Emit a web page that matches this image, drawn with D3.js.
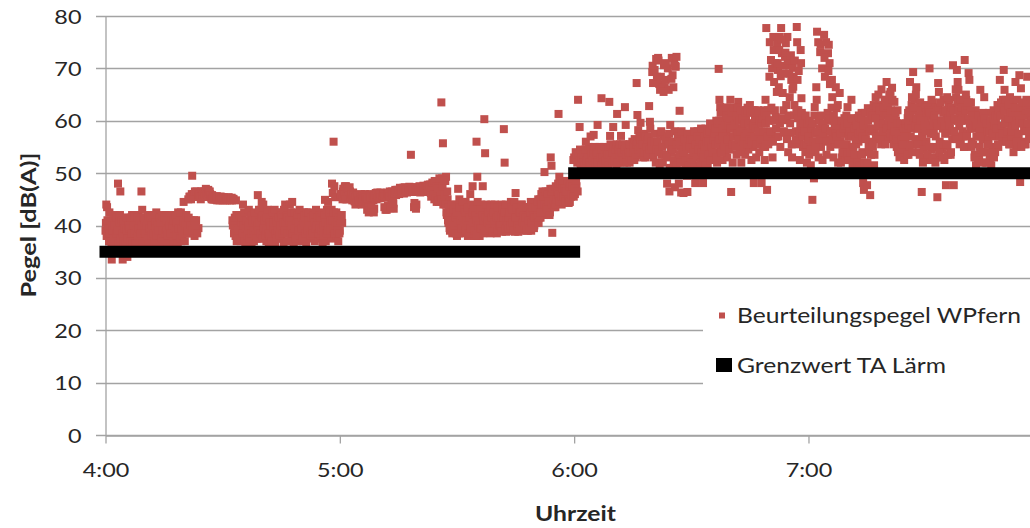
<!DOCTYPE html>
<html><head><meta charset="utf-8">
<script src="https://cdn.jsdelivr.net/npm/d3@7"></script>
<style>
body{margin:0;background:#fff}
svg{display:block}
text{font-family:Lato,"Open Sans",sans-serif;fill:#262626}
</style>
</head><body>
<svg id="chart" width="1030" height="528"></svg>
<script>
// ---------------- data ----------------
const seriesNames = ["Beurteilungspegel WPfern", "Grenzwert TA Lärm"];
const xTitle = "Uhrzeit";
const yTitle = "Pegel [dB(A)]";
const xDomainTimes = ["04:00", "08:00"];
const xTickLabels = ["4:00", "5:00", "6:00", "7:00"];
const yTicks = [0, 10, 20, 30, 40, 50, 60, 70, 80];
const sampleIntervalSeconds = 12;
// Beurteilungspegel WPfern [dB(A)], readings at 04:00:00, 04:00:12, ...
const startTimeA = "04:00:00";
const pegelA = [
// 4:00
39,44,43.5,40,38.5, 42.5,39.5,37,33.5,40, 41,38,36.5,40.5,39, 37.5,48,41,38,46.5, 40,36,33.5,39.5,41.5,
// 4:05
38,40.5,37,34,39, 41,38.5,36,40,42, 37.5,39.5,41,38,40.5, 36.5,40,42,39,37, 41,46.5,43,38,40,
// 4:10
39.5,37,41.5,40,36.5, 38.5,41,39,42,37.5, 40,36,39.5,41,38, 42.5,37,40.5,38.5,41, 39,41.5,36.5,40,38,
// 4:15
37.5,40,42,39.5,36, 41,38,40.5,37,39.5, 38.5,41.5,39,36.5,40, 40.5,37.5,41,42.5,38, 39,41,37,40,42,
// 4:20
44.5,38.5,41,39.5,40.5, 40,45,38.5,45.5,41, 45.5,49.5,40,46,38, 46,41,46,45.5,39.5, 45.5,46,45,45.5,46,
// 4:25
46,45.5,46.5,46,45.5, 46.5,46,46.5,45.5,46, 45.5,45,45.5,45,45, 45,45.5,45,44.8,45, 45,44.8,45,45.5,45,
// 4:30
44.8,45,45.2,44.8,45, 45,44.8,45,45.3,45, 45,45.2,44.8,40,45, 39,41,44.8,37,40, 40.5,38,41.5,37,39.5,
// 4:35
42,44,38.5,40,36.5, 39,41,37.5,42.5,40, 38,40.5,36.5,39.5,41.5, 37,42,39,40.5,38.5, 45.8,41,37.5,40,43,
// 4:40
44.5,39,44,38,41, 40,37,42,39.5,36.5, 41.5,38.5,40,37.5,42, 39,41,36.5,40.5,38, 42.5,37.5,40,39,41,
// 4:45
38,40.5,41.5,36.5,39.5, 44,39,37,41,40, 38.5,44,42,37.5,44.5, 40,36.5,41,39,42, 37,40.5,38.5,41.5,39,
// 4:50
41,38,40,37,42.5, 39.5,41.5,36.5,40,38, 37.5,42,39,41,40.5, 40,38.5,41,37,39.5, 42,39,37.5,40.5,41.5,
// 4:55
38,41,40,36.5,42, 39.5,44.9,37,41,40, 44.5,38.5,41.5,40,37.5, 48,46.2,56,47.5,45.4, 40,38,42,37,41.5,
// 5:00
39,45.5,46,40.5,46.5, 47,45.5,46.5,47.5,45, 46,47,45.5,46.5,45.5, 45.5,44.8,46.3,45.5,44.6, 44,45.5,44.5,45.8,45.5,
// 5:05
45,44.3,46,44,45.2, 45.5,44.7,46,45.2,45.8, 43,45.5,42.5,44.8,46, 45.8,42.8,45.3,44.8,43.2, 45.5,46.2,45,46.3,45.2,
// 5:10
45.8,45.2,46.3,45.5,46, 46.2,45.5,43.5,46.2,45.3, 43,46.3,45.6,43.5,46.5, 46,44,46.5,45.6,43.2, 46.2,46.8,45.8,46.5,46.8,
// 5:15
46.5,46,47.2,46.3,46.6, 46.5,47.2,46.1,47.3,46.5, 47.2,46.3,47,46.4,47.4, 46.8,53.5,47.3,46.4,47, 43.5,46.8,47.3,44,46.5,
// 5:20
47.2,46.6,47.5,46.3,47, 47.3,46.4,47.6,46.7,47.2, 47.5,46.6,46.4,47.8,47, 46.5,47.8,45.5,47.2,48, 47,45,48,46.5,44.5,
// 5:25
48.5,46,44.5,47.5,45.5, 63.5,49,55.7,46,44.5, 48.5,49.3,42,45,40.5, 41,39,43.5,40,38.5, 42,40.5,39,44,41.5,
// 5:30
38,42.5,40,45,39.5, 41,39,43,38.5,42, 40,44.5,39.5,41.5,38, 43,40.5,46,39,42, 47.5,41,38,43.5,40,
// 5:35
56,49.3,39.5,42,38, 41.5,44,40,47.5,39, 60.3,53.8,42.5,40.5,43.5, 39.5,42,41,38.5,44, 40.5,43,39,41.5,40,
// 5:40
42,38.5,40.5,43.5,39.5, 41,39.5,44,40,42.5, 58.4,52,40.5,38.8,41.5, 43,40,39,42,44.5, 39.5,41.5,42.5,40,38.8,
// 5:45
46.2,40.5,43,39.5,41, 42,39,40.5,44,41.5, 40,43,39.5,41,42.5, 41.5,39,42,40.5,43.5, 39,42.5,41,44,40,
// 5:50
42,40.5,43.5,41,45, 43,44.5,41.5,46,42.5, 44,42,50.2,45.5,43, 45,43.5,46.5,44,42.5, 53,51.4,38.6,45.5,44,
// 5:55
46,43.5,47,44.5,45.5, 61.3,49.3,45,47.5,44, 46.5,44.5,48,45.5,47, 45,47.5,46,44.3,48.5, 47,45.5,48,46.5,52.5,
// 6:00
53,46,54,47.5,52, 64,53,58.8,52,54, 51.5,53.5,52.5,54,52, 56,53,51.5,54,52.5, 53.5,57,52,54,51.5,
// 6:05
57.3,52.5,54.5,53,51, 59.2,53.5,52,54.5,52.5, 64.3,52,54,53,51.5, 53.5,51.5,54.5,52.5,54, 63.6,57.1,53,52,54.5,
// 6:10
58.8,54,52.5,53.5,51.5, 61.3,53,54.5,52,53.5, 57.1,52.5,54,55,52, 62.6,59.2,53.5,54.5,52.5, 54,52,55,53,54.5,
// 6:15
53.5,55,52.5,54.5,56, 67.2,61.1,58.2,54,55.5, 59.6,53.5,55,56.5,54, 55.5,53,56,54.5,57, 56.3,62.8,59.8,55,53.5,
// 6:20
69.3,67.2,54.5,69.7,56, 71.8,68.4,55,71.5,67, 65.9,68.4,53.5,66.4,57, 70.6,66.4,67.8,55.5,48, 70,65.9,46.5,59.2,54,
// 6:25
72,68.7,66.4,71,47.3, 70.3,72.2,52,56.5,48, 61.9,55,46.3,53.5,57.5, 46.2,53,55.5,51,57, 46.4,54.5,52,56,50.5,
// 6:30
55,52.5,57.5,53.5,50, 48.1,56,53,58,51.5, 54,57.5,51,55.5,52.5, 48.1,56.5,53.5,58.5,52, 55,51.5,57,54,59.5,
// 6:35
52.5,56,53,58,55.5, 57,54,60,52,56.5, 69.9,64,62.6,55,58, 52.5,60,56.5,62.5,54, 58,53,61,55.5,59.5,
// 6:40
64,46.4,57,52,60.5, 55.5,62,58.5,53.5,60, 63.6,57,54,61,52, 62,58.5,55,60.5,53.5, 60.1,56,62.5,54.5,58,
// 6:45
63,57.5,52.5,59.5,55, 48.1,62,56,53,60.5, 59.8,56.9,54,61,57.5, 48.1,57.9,55,62,52.5, 64,77.7,46.8,62,56,
// 6:50
68.4,60.1,71.6,57.3,53, 76,67.4,62,60.7,56.9, 74.8,69.7,66.4,76,55, 77.7,72.9,65.3,62,57.7, 72.2,74.8,60.1,76,54,
// 6:55
70.6,64.5,57.7,67.8,53, 70.1,68.4,63,55.5,58, 77.9,67.8,62,56,52.5, 73.5,64.3,61,55,58.5, 60,54,57,52,59,
// 7:00
58.5,53.5,56,51.5,55, 44.9,57.7,49,62.6,54, 66.4,77,56,53,58.5, 73.1,55,59,52.5,57, 76.4,68.4,56.5,53.5,60,
// 7:05
72.9,74.5,71,55,58, 67.8,57.5,53,60,55.5, 66.4,62.4,56,52,59, 65.3,56,59.5,53,57.5, 54.5,60.5,52.5,58,55.5,
// 7:10
62.6,57,53.5,59,55, 64,54,60,52.5,57.5, 58.5,55.5,53,60.5,56, 52,59,56.5,61.5,54, 48.1,46.8,57.5,51.5,60,
// 7:15
47.7,62.4,55,58.5,45.8, 53.5,60.5,56,62,51.5, 58,64.5,56.5,61,59.5, 63,57,60.5,55.5,62.5, 56,61.5,58.5,64,57,
// 7:20
67.4,59.5,62,56.5,60.5, 65.5,58,66.3,61,55.5, 63.6,57.5,60,55,62, 56,58.5,54,59,55.5, 57.5,53.5,58.5,55,56.5,
// 7:25
54.5,58,60.5,53.5,62, 67.4,57,63,55.5,69.3, 60,64,56.5,66.4,58.5, 62.5,54,59.5,63.5,56, 46.4,58,53,61.5,55.5,
// 7:30
60.5,56,63,52.5,58.5, 70,57.5,61,54.5,63.5, 59,55,62.5,57,53, 45.4,67.2,65.5,56,60, 62,54.5,58.5,64,52.5,
// 7:35
57.5,47.7,61,55,63, 64,58.5,53.5,60,56.5, 70.6,47.7,62,57,64.5, 69.7,67.4,65.9,59,61.5, 56.5,63,58,61,55,
// 7:40
71.6,60,64,57.5,62.5, 69.1,67.8,58.5,63.5,56, 61,55.5,59.5,53.5,62, 57,60.5,52.5,58.5,55, 65.9,54,61,56.5,59,
// 7:45
64.5,58,52,60,55.5, 56.5,61.5,53.5,58,51.5, 59.5,55,62,57,54, 60,57.5,63,55,61.5, 67.8,58.5,62.5,56,64,
// 7:50
69.7,65.9,60.5,57,63, 58,62,55.5,64.5,59.5, 61,56.5,63.5,58,60, 67.4,55,62,59.5,57, 68.7,48.3,66.2,60.5,56,
// 7:55
63,58.5,61.5,55.5,64, 68.4,59,62.5,57.5,60.5
];
// Beurteilungspegel WPfern [dB(A)], intermediate readings at 04:00:06, 04:00:18, ...
const startTimeB = "04:00:06";
const pegelB = [
// 4:00
40.5,38,41,39.5,37, 38.5,41,36.5,40,39, 37.5,40,42,38.5,41.5, 39,36.5,40.5,42,37.5, 41,38.5,37,40.5,39.5,
// 4:05
36.5,41.5,39,37.5,40, 39.5,37,41.5,38.5,36.5, 40,42,38.5,36.5,39, 41.5,38,39.5,41,38.5, 37,40,36.5,41.5,39,
// 4:10
41,38.5,40,37.5,42, 36.5,39.5,41.5,38,40, 42,38.5,37,40.5,39.5, 38,40,39,36.5,41.5, 40.5,37.5,42,39,37,
// 4:15
41.5,38.5,39,41,38, 36.5,40,42,38.5,41, 40,37,41,39.5,42, 38,40.5,36.5,39.5,41, 37.5,42.5,39.5,38,40.5,
// 4:20
41,37,40,42,38.5, 39,41.5,45.5,40,45, 46,39,45.5,41,46.5, 40,46.5,38.5,46,45.5, 46,45.5,46.5,45.5,46,
// 4:25
46.5,46,45.5,47,46, 46,46.8,46.2,46.5,45.8, 45.2,45.8,45,45.5,45.3, 45.3,45,45.6,45.2,44.9, 45.2,45.5,44.9,45.1,45.4,
// 4:30
45.1,45.4,44.9,45.2,45.3, 45.2,44.9,45.4,45.1,44.8, 44.9,45.3,41,45.1,38.5, 41.5,38,42,39.5,37.5, 39,42,37.5,40.5,41.5,
// 4:35
38.5,40,42.5,37,39.5, 41,38,40,43,37.5, 40.5,42,38.5,41,39, 42.5,38,41,37.5,40, 39,43,40.5,38.5,41.5,
// 4:40
37.5,42,39.5,41,38, 41.5,39,43,38.5,40.5, 38,40,37,42.5,39.5, 40.5,43,38.5,41,37.5, 39,41.5,38,40,42.5,
// 4:45
42,38.5,40.5,43,39, 40.5,42,38.5,41.5,37, 41,39,42.5,40,38.5, 38.5,42.5,39.5,37.5,41, 42,39,40.5,43,38,
// 4:50
39.5,41.5,37.5,40.5,42, 40,38.5,42.5,39,41, 42.5,40,38,41.5,39, 38.5,42,40.5,39.5,43, 40,41.5,38.5,42,39.5,
// 4:55
41.5,39,42.5,40,38, 42,40.5,38.5,43,39, 40,42.5,39,41,43, 41,39.5,42.5,38.5,40, 42.5,40.5,39,41.5,38.5,
// 5:00
41,46,42,45,47, 46,47.5,45,46.5,47, 45.5,46.5,47.3,45.2,46, 46,45.2,45.8,44.8,45.5, 45.3,44.5,45.8,45,44.8,
// 5:05
44.6,45.4,45,45.8,44.5, 45.2,45.6,44.8,45.4,45, 45.2,43.5,45.6,42.8,45.3, 43.5,45.4,45.8,42.5,45.6, 45.2,45.6,45.9,45.3,45.7,
// 5:10
45.6,46.1,45.3,45.9,45.5, 45.7,46.2,45.6,43,45.9, 45.9,43.8,46.2,45.6,43.3, 43.5,46.3,45.9,44.2,46.1, 46.1,46.6,46.4,46.8,46.2,
// 5:15
46.8,46.4,46.9,46.2,46.7, 46.6,47.1,46.3,46.9,46.7, 46.9,46.4,47.2,46.7,46.5, 46.6,47.2,46.9,46.4,47.1, 44.3,46.9,43.2,46.7,47.1,
// 5:20
46.9,47.3,46.6,47.1,46.8, 47.3,46.8,47.4,46.6,47.2, 46.9,47.6,47.1,46.6,47.4, 47.8,46.2,47.3,48.2,45.8, 46,48.5,45.2,47.5,44.8,
// 5:25
47,44.8,49,45.5,46.5, 45,47.5,44,48.5,46, 44,42.5,46.5,41,43.5, 39.5,42.5,40,44,38.8, 43,39,41.5,38.5,42.5,
// 5:30
40.5,47,38.5,43.5,41, 39.5,42,44.5,40,43, 42.5,39,41,43.5,40, 38.5,41.5,39.5,44,42.5, 40.5,43,39,42,38,
// 5:35
41,44.5,40,43,39.5, 43,39.5,42,38.5,41, 39,41.5,44,40.5,42, 42.5,40,43.5,39.5,41.5, 38.8,42.5,40.5,44,39.5,
// 5:40
41.5,43.5,39,42,40, 40,42,38.8,43,41.5, 42.5,39.5,44,41,40, 39.5,41.5,42.5,40,43.5, 43,40.5,39,44.5,41.5,
// 5:45
41.5,43.5,40,38.8,42.5, 39.5,42.5,44,40.5,43, 42,40,41.5,43.5,39, 43.5,41,39.5,42.5,44.5, 40.5,43.5,42,39.5,41.5,
// 5:50
43.5,41.5,44.5,42,40.5, 41.5,45,42.5,44,46.5, 45.5,42.5,44,46.5,43.5, 43,46,44.5,42,47, 46.5,44,47,45,43.5,
// 5:55
44,47.5,45,46.5,48, 46,44.5,48,45.5,47, 48.5,45.5,47,44.5,46.5, 46.5,48.5,45,47.5,44.5, 48,46,47.5,49,45.5,
// 6:00
47,52.5,48.5,53.5,46.5, 53.5,52.5,54.5,51.5,53, 54,52,53.5,51.5,54.5, 52.5,54.5,53,55,52, 54.5,51.5,53.5,52.5,54,
// 6:05
53,55,52,54,53.5, 52,54,55,53,51.5, 54.5,53,52,55,53.5, 52.5,54.5,53.5,51.5,55, 53.5,55.5,52.5,54,52,
// 6:10
55,52.5,54.5,53,55.5, 52,54.5,53.5,55.5,53, 54,53,55.5,52.5,54.5, 55,53.5,52,55.5,54, 53,55.5,54,52.5,56,
// 6:15
55,54,56.5,53,55.5, 53.5,56,54.5,57,55, 56.5,54,55.5,53,57.5, 54,57,55,56.5,53.5, 57,54.5,58.5,56,55,
// 6:20
70.5,53,56,57.5,52, 54.5,56,72,54,51.5, 57.5,58,55,52,65.5, 53.5,56.5,71,53,57, 55.5,57.5,51,55,68,
// 6:25
56,54.5,52.5,58,70.5, 51.5,55.5,57,53,53.5, 56,52,58,54.5,50.5, 54,56.5,52.5,55,49.5, 57.5,51.5,55,53,56.5,
// 6:30
52,56.5,54,58,51, 55.5,53,57,50.5,54.5, 56.5,52,58.5,54,55.5, 53,57,55,51.5,56, 57.5,53.5,56,58,52.5,
// 6:35
55,59,54,56.5,57.5, 58.5,55.5,53,59.5,56, 60,56.5,61.5,54,58.5, 57,62,55,59,61, 62.5,56.5,59,54.5,60.5,
// 6:40
58.5,61.5,55.5,62.5,57, 59,55,61,57.5,62.5, 56.5,60,58,62,55, 60.5,56,59.5,57,61.5, 57.5,62,55.5,59.5,56.5,
// 6:45
61.5,58.5,56,62,59, 57,60.5,58.5,55.5,61.5, 62,58,60,56,59.5, 56.5,60.5,58,61.5,55, 59.5,61,57,55.5,60,
// 6:50
75,58,62.5,70,56, 73.5,60,71,58.5,65.5, 71,57,73.5,59.5,68.5, 75.5,60.5,69,58,70.5, 73,63,56.5,71.5,61,
// 6:55
69,59.5,72.5,55.5,66, 66.5,61,71.5,56.5,62, 75,60.5,69.5,57.5,59, 71,61.5,57,59.5,55.5, 58,61,55.5,59.5,56.5,
// 7:00
57,60,54.5,58.5,56, 59.5,56,61,55,57.5, 64,58,75,60,56.5, 74.5,61,70,57.5,59.5, 72,58.5,75,56,61.5,
// 7:05
69.5,60.5,67,58,62.5, 64.5,56.5,61,59,57.5, 60,57,63,55.5,58.5, 57.5,52,60,54,58.5, 55.5,59,52.5,61,53.5,
// 7:10
59.5,52.5,58,54,60.5, 57,51.5,55,58.5,53.5, 56.5,59,52,57.5,61, 51.5,58,60.5,53.5,57, 59,52,61.5,56.5,51.5,
// 7:15
52,60,54,58,61.5, 58.5,61,55,63,53.5, 60.5,57,62.5,59,65, 59,62,56.5,66,58, 62.5,59.5,64,55.5,61,
// 7:20
58.5,63,60,65,57.5, 62,59,64,57,60.5, 58,61.5,56.5,59.5,54, 57.5,53,59.5,56.5,54.5, 55.5,58.5,52.5,57,59.5,
// 7:25
58.5,53.5,61.5,59,55, 61,58.5,64.5,54,62, 62.5,59,65,60.5,55.5, 58.5,61,53.5,60,62, 57,52,54.5,59,62.5,
// 7:30
58,61.5,53.5,62,55, 61.5,59,64,53,60, 57.5,61,52,59.5,62, 59,62.5,54,63.5,55.5, 60,53,61.5,55.5,59,
// 7:35
62,55.5,64.5,53.5,60.5, 59,61.5,54,62.5,58, 62,58,60.5,66,56.5, 63.5,60,62,55.5,64, 60,62.5,57,64,55,
// 7:40
62,65,57,63,60.5, 63.5,59.5,62,55,61, 58.5,60,53,59,51.5, 59,53,61,52.5,58, 57,60,52,61.5,54,
// 7:45
60.5,54,59.5,52,58, 55.5,58,52.5,60,54, 57.5,60.5,53,59,61, 58.5,61,55.5,62,57, 61,63.5,59,57.5,62.5,
// 7:50
62,59.5,64,56,58, 60.5,63,55.5,61.5,57, 58,61.5,54,62.5,59, 62.5,56,64,57.5,61, 60,62.5,55,63.5,59.5,
// 7:55
61,55.5,62,58,63, 59.5,62,56.5,58,61.5
];
// Grenzwert TA Lärm [dB(A)]
const limitStart = ["04:00", "06:00"];
const limitEnd = ["06:00", "08:00"];
const limitValues = [35, 50];

// ---------------- chart ----------------
const svg = d3.select("#chart");
const parseHM = d3.timeParse("%H:%M");
const parseHMS = d3.timeParse("%H:%M:%S");

const x = d3.scaleTime().domain(xDomainTimes.map(parseHM)).range([105.5, 1042.8]);
const y = d3.scaleLinear().domain([0, 80]).range([435, 16]);

const grid = "#a3a3a3";

// horizontal gridlines
svg.append("g").selectAll("line").data(yTicks).join("line")
  .attr("x1", 96).attr("x2", 1043)
  .attr("y1", d => Math.round(y(d)) + 0.5).attr("y2", d => Math.round(y(d)) + 0.5)
  .attr("stroke", grid).attr("stroke-width", 1.3);

// y axis
const yAxis = svg.append("g").attr("transform", "translate(105.5,0)")
  .call(d3.axisLeft(y).tickValues(yTicks).tickSize(0).tickPadding(24));
yAxis.select(".domain").attr("stroke", grid).attr("stroke-width", 1.3);
yAxis.selectAll("text").style("font-size", "19.5px").attr("fill", "#262626").attr("dy", "0.36em");

// x axis
const xAxis = svg.append("g").attr("transform", "translate(0,435.5)")
  .call(d3.axisBottom(x).ticks(d3.timeHour.every(1)).tickSizeInner(8).tickSizeOuter(0)
    .tickFormat((d, i) => xTickLabels[i] || ""));
xAxis.select(".domain").attr("stroke", grid).attr("stroke-width", 1.3);
xAxis.selectAll(".tick line").attr("stroke", grid).attr("stroke-width", 1.3);
xAxis.selectAll("text").style("font-size", "19.5px").attr("fill", "#262626").attr("y", 41.5).attr("dy", 0);

// stretch tick labels horizontally
function stretch(sel, k) {
  sel.each(function () {
    const w = this.getComputedTextLength();
    d3.select(this).attr("textLength", w * k).attr("lengthAdjust", "spacingAndGlyphs");
  });
}
stretch(yAxis.selectAll("text"), 1.2);
stretch(xAxis.selectAll("text"), 1.2);

// points
function toPoints(values, start) {
  const s = parseHMS(start).getTime();
  return values.map((v, i) => ({ t: new Date(s + i * sampleIntervalSeconds * 1000), v }));
}
const pts = toPoints(pegelA, startTimeA).concat(toPoints(pegelB, startTimeB));
const ms = 8;
svg.append("g").selectAll("rect").data(pts).join("rect")
  .attr("x", d => x(d.t) - ms / 2).attr("y", d => y(d.v) - ms / 2)
  .attr("width", ms).attr("height", ms).attr("fill", "#c0504d");

// limit line
svg.append("g").selectAll("line").data(limitValues).join("line")
  .attr("x1", (d, i) => x(parseHM(limitStart[i])))
  .attr("x2", (d, i) => x(parseHM(limitEnd[i])))
  .attr("y1", d => y(d)).attr("y2", d => y(d))
  .attr("stroke", "#000").attr("stroke-width", 12).attr("stroke-linecap", "square");

// axis titles
svg.append("text").attr("x", 575.5).attr("y", 521).attr("text-anchor", "middle")
  .style("font-size", "20.5px").style("font-weight", "bold").text(xTitle)
  .attr("textLength", 81).attr("lengthAdjust", "spacingAndGlyphs");
svg.append("text").attr("transform", "translate(36,225) rotate(-90)").attr("text-anchor", "middle")
  .style("font-size", "20.5px").style("font-weight", "bold").text(yTitle)
  .attr("textLength", 145).attr("lengthAdjust", "spacingAndGlyphs");

// legend
const lg = svg.append("g");
lg.append("rect").attr("x", 703).attr("y", 289).attr("width", 340).attr("height", 104).attr("fill", "#fff");
lg.append("rect").attr("x", 719).attr("y", 312.5).attr("width", 6).attr("height", 6).attr("fill", "#c0504d");
lg.append("text").attr("x", 737).attr("y", 323).style("font-size", "21px").text(seriesNames[0])
  .attr("textLength", 284).attr("lengthAdjust", "spacingAndGlyphs");
lg.append("rect").attr("x", 716).attr("y", 358).attr("width", 16).attr("height", 14).attr("fill", "#000");
lg.append("text").attr("x", 737).attr("y", 372.5).style("font-size", "21px").text(seriesNames[1])
  .attr("textLength", 209).attr("lengthAdjust", "spacingAndGlyphs");
</script>
</body></html>
